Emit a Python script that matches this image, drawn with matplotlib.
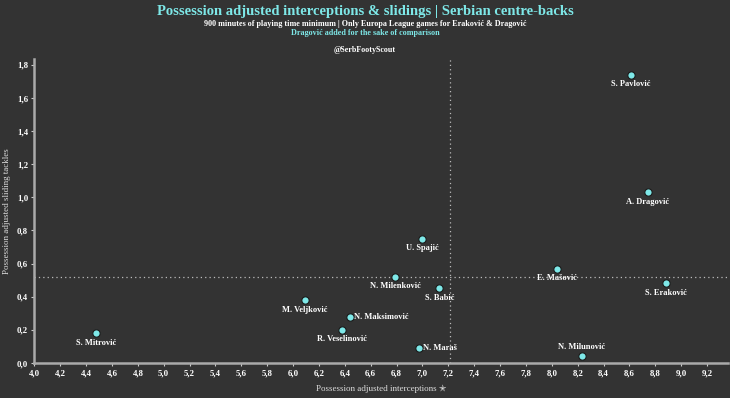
import matplotlib.pyplot as plt
import numpy as np
from matplotlib.ticker import FuncFormatter

players = ["S. Pavlović", "A. Dragović", "U. Spajić", "E. Mašović", "S. Eraković",
           "N. Milenković", "S. Babić", "N. Maraš", "N. Milunović", "M. Veljković",
           "N. Maksimović", "R. Veselinović", "S. Mitrović"]
interceptions = [8.61, 8.74, 7.00, 8.04, 8.88, 6.79, 7.13, 6.97, 8.23, 6.09, 6.44, 6.38, 4.48]
slidings = [1.74, 1.03, 0.75, 0.57, 0.48, 0.52, 0.45, 0.09, 0.04, 0.38, 0.28, 0.20, 0.18]
# where the name sits relative to the dot
label_side = ["below", "below", "below", "below", "below", "below", "below",
              "right", "above", "below", "right", "below", "below"]

bg = "#333333"
cyan = "#7ee8e8"
font = ["Liberation Serif", "DejaVu Sans"]

plt.rcParams['font.family'] = font
fig = plt.figure(figsize=(7.3, 3.98), dpi=100, facecolor=bg)
ax = fig.add_axes([0.047, 0.088, 0.95, 0.764], facecolor=bg)

x = np.array(interceptions)
y = np.array(slidings)

ax.axvline(x.mean(), color="#bbbbbb", lw=0.9, ls=(0, (1, 2.5)), zorder=1)
ax.axhline(y.mean(), color="#bbbbbb", lw=0.9, ls=(0, (1, 2.5)), zorder=1)

ax.scatter(x, y, s=28, color=cyan, edgecolor="#1a1a1a", linewidth=0.8, zorder=3)

for name, xi, yi, side in zip(players, x, y, label_side):
    if side == "below":
        ax.annotate(name, (xi, yi), xytext=(0, -4), textcoords="offset points",
                    ha="center", va="top", color="white", fontsize=6, fontweight="bold")
    elif side == "right":
        ax.annotate(name, (xi, yi), xytext=(3, 0), textcoords="offset points",
                    ha="left", va="center", color="white", fontsize=6, fontweight="bold")
    else:
        ax.annotate(name, (xi, yi), xytext=(0, 4), textcoords="offset points",
                    ha="center", va="bottom", color="white", fontsize=6, fontweight="bold")

ax.set_xlim(4.0, 9.36)
ax.set_ylim(0.0, 1.836)
ax.set_xticks(np.arange(4.0, 9.21, 0.2))
ax.set_yticks(np.arange(0.0, 1.81, 0.2))
comma = FuncFormatter(lambda v, p: f"{v:.1f}".replace(".", ","))
ax.xaxis.set_major_formatter(comma)
ax.yaxis.set_major_formatter(comma)
ax.tick_params(colors="#cccccc", labelcolor="white", labelsize=6.3, length=2.5, width=0.8, pad=2)
for lbl in ax.get_xticklabels() + ax.get_yticklabels():
    lbl.set_fontweight("bold")

for s in ["top", "right"]:
    ax.spines[s].set_visible(False)
for s in ["left", "bottom"]:
    ax.spines[s].set_color("#aaaaaa")
    ax.spines[s].set_linewidth(1.8)

ax.set_xlabel("Possession adjusted interceptions ✭", color="#dddddd", fontsize=6.5,
              labelpad=5)
ax.set_ylabel("Possession adjusted sliding tackles", color="#dddddd", fontsize=6.5, labelpad=4)

fig.text(0.5, 0.97, "Possession adjusted interceptions & slidings | Serbian centre-backs",
         ha="center", va="center", color=cyan, fontsize=10.5, fontweight="bold")
fig.text(0.5, 0.94, "900 minutes of playing time minimum | Only Europa League games for Eraković & Dragović",
         ha="center", va="center", color="white", fontsize=5.9, fontweight="bold")
fig.text(0.5, 0.917, "Dragović added for the sake of comparison",
         ha="center", va="center", color=cyan, fontsize=5.9, fontweight="bold")
fig.text(0.5, 0.874, "@SerbFootyScout", ha="center", va="center", color="white",
         fontsize=5.8, fontweight="bold")

fig.savefig("out.png", dpi=100, facecolor=bg)
